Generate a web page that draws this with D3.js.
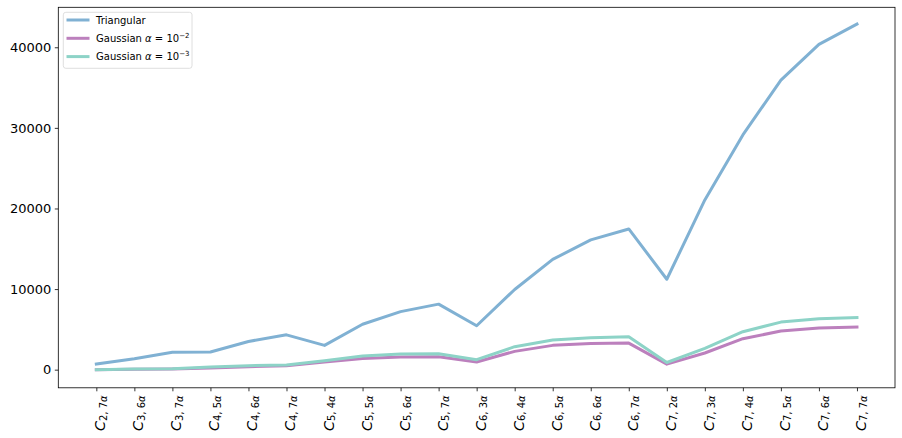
<!DOCTYPE html>
<html>
<head>
<meta charset="utf-8">
<script src="https://cdn.jsdelivr.net/npm/d3@7"></script>
<style>
  body { margin: 0; background: #fff; }
  svg { font-family: "DejaVu Sans", sans-serif; }
</style>
</head>
<body>
<div id="container"></div>
<script>
const WIDTH = 902;
const HEIGHT = 438;
const PLOT = {left: 58.3, right: 895, top: 7.3, bottom: 387.8};

// category labels C_{n, m alpha}
var CAT_N = [2, 3, 3, 4, 4, 4, 5, 5, 5, 5, 6, 6, 6, 6, 6, 7, 7, 7, 7, 7, 7];
var CAT_M = [7, 6, 7, 5, 6, 7, 4, 5, 6, 7, 3, 4, 5, 6, 7, 2, 3, 4, 5, 6, 7];

var TRIANGULAR = [700, 1360, 2150, 2190, 3500, 4320, 3010, 5640, 7200, 8130, 5450,
    9950, 13680, 16100, 17460, 11220, 21060, 29120, 35930, 40360, 42870];
var GAUSS_2 = [0, 60, 80, 200, 370, 500, 950, 1400, 1570, 1610, 950,
    2270, 3015, 3260, 3300, 680, 2070, 3840, 4790, 5160, 5290];
var GAUSS_3 = [0, 80, 100, 330, 500, 580, 1100, 1700, 1940, 1980, 1240,
    2850, 3680, 3965, 4090, 890, 2640, 4710, 5900, 6320, 6480];

var Y_TICKS = [0, 10000, 20000, 30000, 40000];

var series = [
    {name: "Triangular", exp: null, values: TRIANGULAR, color: "#80b1d3"},
    {name: "Gaussian ", exp: "\u22122", values: GAUSS_2, color: "#bc80bd"},
    {name: "Gaussian ", exp: "\u22123", values: GAUSS_3, color: "#8dd3c7"}
];

var XScale = d3.scaleLinear().domain([-1, CAT_N.length]).range([PLOT.left, PLOT.right]);
var YScale = d3.scaleLinear().domain([-2250, 44960]).range([PLOT.bottom, PLOT.top]);

var line = d3.line()
    .x(function (d, i) { return XScale(i); })
    .y(function (d) { return YScale(d); });

var svg = d3.select("#container").append("svg")
    .attr("width", WIDTH)
    .attr("height", HEIGHT);

// y axis
var yAxis = svg.append("g")
    .attr("transform", "translate(" + PLOT.left + ",0)")
    .call(d3.axisLeft(YScale).tickValues(Y_TICKS).tickSize(3.5).tickPadding(3.5).tickFormat(d3.format("d")));
yAxis.select(".domain").remove();
yAxis.selectAll("line").attr("stroke", "#000").attr("stroke-width", 0.8);
yAxis.selectAll("text").attr("fill", "#000").style("font-size", "13px")
    .style("font-family", "DejaVu Sans");

// x axis
var xAxis = svg.append("g")
    .attr("transform", "translate(0," + PLOT.bottom + ")")
    .call(d3.axisBottom(XScale).tickValues(d3.range(CAT_N.length)).tickSize(3.5).tickFormat(""));
xAxis.select(".domain").remove();
xAxis.selectAll("line").attr("stroke", "#000").attr("stroke-width", 0.8);

xAxis.selectAll(".tick").each(function (d) {
    var t = d3.select(this).append("text")
        .attr("transform", "translate(0,7.5) rotate(-90)")
        .attr("text-anchor", "end")
        .attr("dy", "8.5")
        .attr("fill", "#000")
        .style("font-family", "DejaVu Sans");
    t.append("tspan").style("font-style", "italic").style("font-size", "14.5px").text("C");
    t.append("tspan").attr("dy", "1.5").style("font-size", "10px").text(CAT_N[d] + ", " + CAT_M[d]);
    t.append("tspan").style("font-style", "italic").style("font-size", "10px").text("\u03b1");
});

// lines
series.forEach(function (s) {
    svg.append("path")
        .datum(s.values)
        .attr("class", "line")
        .attr("fill", "none")
        .attr("stroke", s.color)
        .attr("stroke-width", 3)
        .attr("stroke-linejoin", "round")
        .attr("stroke-linecap", "square")
        .attr("d", line);
});

// frame
svg.append("rect")
    .attr("x", PLOT.left).attr("y", PLOT.top)
    .attr("width", PLOT.right - PLOT.left).attr("height", PLOT.bottom - PLOT.top)
    .attr("fill", "none").attr("stroke", "#000").attr("stroke-width", 0.8);

// legend
var legend = svg.append("g");
legend.append("rect")
    .attr("x", 63.3).attr("y", 12.3).attr("width", 128.7).attr("height", 56)
    .attr("rx", 2.5)
    .attr("fill", "#fff").attr("fill-opacity", 0.8)
    .attr("stroke", "#d6d6d6").attr("stroke-width", 0.8);

series.forEach(function (s, i) {
    var y = 20 + i * 18.3;
    legend.append("line")
        .attr("x1", 68).attr("x2", 88).attr("y1", y).attr("y2", y)
        .attr("stroke", s.color).attr("stroke-width", 3).attr("stroke-linecap", "square");
    var t = legend.append("text")
        .attr("x", 96).attr("y", y).attr("dy", "0.35em")
        .attr("fill", "#000").style("font-size", "10px");
    t.append("tspan").text(s.name);
    if (s.exp) {
        t.append("tspan").style("font-style", "italic").text("\u03b1");
        t.append("tspan").text(" = 10");
        t.append("tspan").attr("dy", "-4").style("font-size", "7px").text(s.exp);
    }
});
</script>
</body>
</html>
